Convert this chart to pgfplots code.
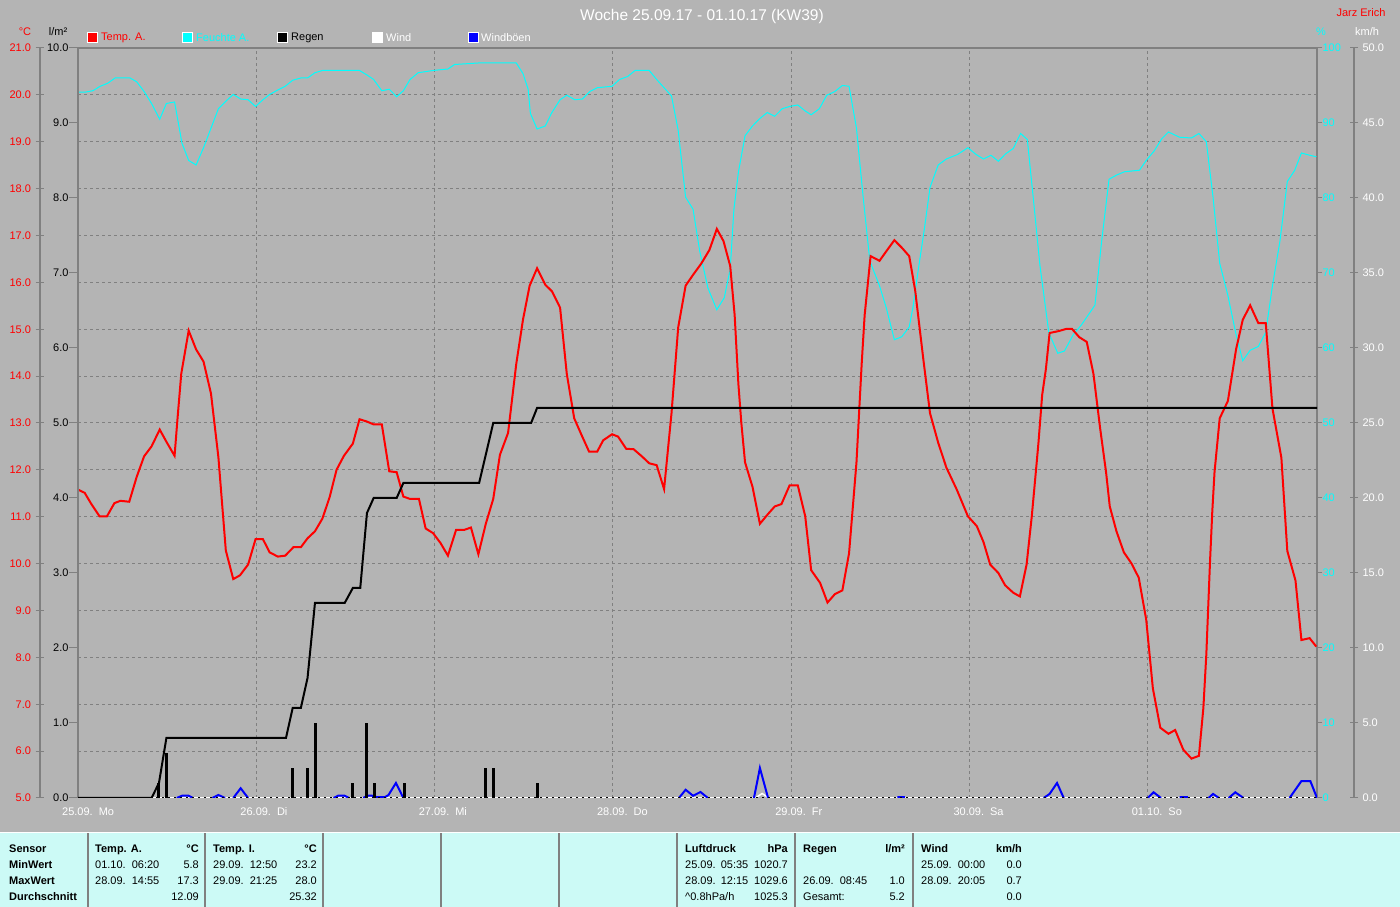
\documentclass[border=0pt]{standalone}
\usepackage{fontspec}
\setmainfont{Liberation Sans}
\usepackage{pgfplots}
\pgfplotsset{compat=1.18}

\definecolor{bg}{RGB}{180,180,180}
\definecolor{tabc}{RGB}{204,250,246}
\definecolor{gridc}{RGB}{128,128,128}
\definecolor{cyanc}{RGB}{0,255,255}
\newcommand{\sm}{\fontsize{11}{13}\selectfont}

\pgfplotsset{
  base/.style={scale only axis, width=1239pt, height=750pt,
    at={(78pt,109pt)}, anchor=south west, xmin=0, xmax=166.8},
  onedec/.style={/pgf/number format/fixed, /pgf/number format/fixed zerofill,
    /pgf/number format/precision=1, /pgf/number format/assume math mode=true},
}

\begin{document}
\begin{tikzpicture}
\fill[bg] (0pt,0pt) rectangle (1400pt,907pt);
\fill[tabc] (0pt,0pt) rectangle (1400pt,74pt);
\draw[white, line width=1pt] (0pt,74pt) -- (1400pt,74pt);

% grid and day labels
\begin{axis}[base, ymin=5, ymax=21,
  xtick={0,24,...,144}, ytick={6,7,...,20},
  xmajorgrids, ymajorgrids,
  grid style={gridc, dash pattern=on 3pt off 3pt, line width=1pt},
  axis line style={draw=none}, major tick length=0pt,
  yticklabels={},
  xticklabels={{25.09.\hspace{6pt}Mo},{26.09.\hspace{6pt}Di},{27.09.\hspace{6pt}Mi},
    {28.09.\hspace{6pt}Do},{29.09.\hspace{6pt}Fr},{30.09.\hspace{6pt}Sa},{01.10.\hspace{6pt}So}},
  x tick label style={white, font=\sm, anchor=west, inner sep=0pt, xshift=-16pt, yshift=-14pt}]
\addplot[draw=none] coordinates {(0,5)};
\end{axis}

% temperature scale
\begin{axis}[scale only axis, width=1pt, height=750pt, at={(40pt,109pt)}, anchor=south west,
  xmin=0, xmax=1, ymin=5, ymax=21, axis x line=none, axis y line=left,
  y axis line style={gridc, line width=2pt, -},
  ytick={5,6,...,21}, tick align=center, major tick length=9pt,
  tick style={gridc, line width=1pt},
  yticklabel style={red, font=\sm, xshift=-1pt}, onedec]
\end{axis}

% humidity
\begin{axis}[base, ymin=0, ymax=100, axis x line=none, axis y line=right,
  y axis line style={gridc, line width=2.5pt, -},
  ytick={0,10,...,100}, tick align=outside, major tick length=5pt,
  tick style={gridc, line width=1pt},
  yticklabel style={cyanc, font=\sm, xshift=-3pt},
  /pgf/number format/assume math mode=true]
\addplot[cyanc, line width=1pt] coordinates {
(0,94.1) (0.9,94.1) (2.0,94.3) (3.0,94.9) (4.0,95.3) (5.0,96.0) (7.0,96.0) (7.9,95.5)
(8.9,94.2) (9.9,92.6) (11.0,90.5) (11.9,92.6) (13.0,92.8) (14.0,87.3) (14.9,85.0)
(15.9,84.4) (16.9,86.7) (17.9,89.3) (18.9,91.9) (19.9,92.9) (20.9,93.8) (21.9,93.2)
(22.9,93.1) (23.9,92.2) (24.9,93.1) (25.8,93.8) (26.9,94.4) (27.9,94.9) (28.9,95.7)
(30.0,96.0) (30.9,96.0) (31.9,96.7) (32.9,97.0) (37.9,97.0) (38.9,96.4) (39.8,95.8)
(40.9,94.3) (41.9,94.5) (42.9,93.5) (43.8,94.3) (44.7,95.8) (45.8,96.7) (47.8,97.0)
(49.8,97.2) (50.7,97.8) (53.9,98.0) (59.0,98.0) (59.9,96.6) (60.6,94.5) (60.9,91.3)
(61.8,89.2) (62.9,89.6) (63.8,91.4) (64.9,93.1) (65.8,93.7) (66.9,93.1) (67.9,93.2)
(68.9,94.2) (69.9,94.7) (71.9,94.9) (72.9,95.8) (74.0,96.2) (75.0,97.0) (76.9,97.0)
(77.9,95.8) (78.9,94.7) (79.9,93.6) (80.8,89.0) (81.8,80.1) (82.8,78.5) (83.7,72.9)
(84.8,68.0) (86.0,65.1) (87.0,66.7) (87.8,70.5) (88.3,78.5) (88.9,83.4) (89.8,88.3)
(90.8,89.6) (91.8,90.6) (92.8,91.4) (93.8,90.9) (94.8,91.9) (95.8,92.2) (96.9,92.4)
(97.9,91.6) (98.7,91.1) (99.8,91.9) (100.8,93.7) (101.9,94.2) (102.9,95.0) (103.8,94.9)
(104.8,89.3) (105.7,80.1) (106.6,71.6) (107.9,68.3) (108.8,65.4) (109.9,61.1) (110.9,61.5)
(111.9,62.8) (112.4,65.4) (113.1,70.3) (113.9,75.6) (114.7,81.4) (115.8,84.4) (116.9,85.2)
(118.4,85.8) (119.8,86.7) (120.9,85.8) (121.9,85.2) (122.9,85.7) (123.9,84.9) (124.9,85.9)
(125.9,86.6) (126.9,88.6) (127.8,87.8) (128.6,80.0) (129.5,71.0) (130.7,62.0) (131.9,59.3)
(132.8,59.6) (134.0,61.8) (135.1,63.1) (136.9,65.7) (137.8,74.2) (138.8,82.5) (139.9,83.1)
(140.9,83.5) (142.9,83.7) (143.8,85.0) (144.9,86.3) (145.9,87.9) (146.8,88.8) (148.3,88.1)
(149.9,88.0) (150.9,88.6) (151.9,87.5) (152.8,80.1) (153.7,71.3) (154.8,67.0) (155.9,61.8)
(156.8,58.3) (157.8,59.7) (158.9,60.2) (159.9,62.1) (160.8,68.3) (161.8,74.2) (162.8,82.2)
(163.8,83.7) (164.7,86.0) (165.8,85.7) (166.7,85.5)};
\end{axis}

% temperature
\begin{axis}[base, ymin=5, ymax=21, hide axis]
\addplot[red, line width=2pt] coordinates {
(0,11.58) (0.9,11.51) (1.8,11.27) (2.9,11.01) (3.9,11.01) (4.9,11.29) (5.7,11.34) (6.9,11.32)
(7.9,11.85) (8.9,12.29) (9.9,12.50) (11.0,12.86) (11.9,12.60) (13.0,12.30) (13.4,13.10)
(13.9,14.05) (14.9,14.97) (15.9,14.57) (16.9,14.31) (17.9,13.63) (18.9,12.27) (19.9,10.28)
(20.9,9.67) (21.8,9.75) (22.9,9.98) (23.9,10.52) (24.9,10.52) (25.8,10.24) (26.9,10.15)
(27.9,10.17) (29.0,10.35) (30.0,10.35) (30.9,10.54) (31.9,10.69) (32.9,10.96) (33.9,11.43)
(34.8,12.00) (35.8,12.30) (37.0,12.56) (37.9,13.08) (38.9,13.03) (39.8,12.97) (40.9,12.97)
(41.9,11.97) (42.9,11.95) (43.8,11.43) (44.7,11.38) (45.9,11.38) (46.8,10.75) (47.8,10.65)
(48.8,10.44) (49.8,10.17) (50.9,10.72) (52.0,10.72) (52.9,10.77) (53.9,10.20) (54.9,10.85)
(55.9,11.38) (56.8,12.32) (57.9,12.79) (59.0,14.26) (59.9,15.20) (60.8,15.93) (61.8,16.30)
(62.9,15.95) (63.8,15.81) (64.9,15.46) (65.8,14.05) (66.8,13.10) (67.8,12.74) (68.8,12.39)
(69.9,12.39) (70.7,12.63) (71.9,12.76) (72.7,12.71) (73.8,12.45) (74.8,12.44) (75.9,12.29)
(76.9,12.14) (77.9,12.10) (78.9,11.59) (79.9,13.21) (80.8,15.04) (81.8,15.93) (82.8,16.16)
(83.9,16.40) (85.0,16.69) (86.0,17.14) (86.9,16.88) (87.8,16.35) (88.4,15.30) (88.9,13.84)
(89.3,13.00) (89.8,12.16) (90.8,11.64) (91.8,10.85) (92.9,11.06) (93.8,11.22) (94.7,11.27)
(95.8,11.67) (96.9,11.67) (97.9,11.01) (98.7,9.86) (99.9,9.59) (100.9,9.17) (101.9,9.35)
(102.9,9.43) (103.8,10.22) (104.8,12.16) (105.5,14.26) (105.9,15.30) (106.7,16.56)
(107.9,16.46) (108.8,16.66) (109.9,16.90) (110.9,16.74) (111.9,16.56) (112.7,15.83)
(113.8,14.36) (114.7,13.21) (115.8,12.58) (116.9,12.05) (118.3,11.58) (119.8,11.01)
(121.0,10.80) (121.9,10.46) (122.8,9.98) (123.9,9.80) (124.8,9.54) (125.9,9.38) (126.8,9.30)
(127.7,9.98) (128.4,11.01) (129.0,12.05) (129.3,12.58) (129.8,13.60) (130.3,14.15)
(130.8,14.92) (132.0,14.96) (133.1,15.01) (133.8,15.01) (134.8,14.83) (135.8,14.73)
(136.7,14.05) (137.6,12.89) (138.4,11.95) (138.9,11.22) (139.8,10.69) (140.8,10.24)
(141.8,10.01) (142.8,9.70) (143.8,8.81) (144.7,7.34) (145.7,6.50) (146.8,6.37) (147.7,6.45)
(148.8,6.03) (149.9,5.84) (150.9,5.90) (151.5,6.92) (151.9,8.07) (152.4,10.06) (152.7,11.11)
(153.0,11.95) (153.7,13.10) (154.8,13.47) (155.9,14.57) (156.8,15.20) (157.8,15.51)
(158.9,15.13) (159.9,15.13) (160.8,13.31) (162.0,12.26) (162.8,10.27) (163.9,9.64)
(164.7,8.37) (165.8,8.41) (166.7,8.23)};
\end{axis}

% wind and gusts
\begin{axis}[base, ymin=0, ymax=50, hide axis, unbounded coords=jump]
\addplot[white, line width=1.5pt] coordinates {(0,0) (91.2,0) (92.1,0.3) (93.0,0) (166.8,0)};
\addplot[blue, line width=2pt] coordinates {
(13.3,0) (14.0,0.15) (14.9,0.15) (15.5,0) (15.6,nan)
(18.1,0) (18.9,0.2) (19.8,0) (19.9,nan)
(20.9,0) (21.9,0.65) (22.9,0) (23.0,nan)
(34.4,0) (35.0,0.15) (35.9,0.15) (36.5,0) (36.6,nan)
(38.4,0) (39.0,0.15) (39.6,0.15) (40.3,0.05) (41.3,0.05) (41.8,0.2) (42.8,1.0) (43.8,0) (43.9,nan)
(80.9,0) (81.8,0.55) (82.8,0.15) (83.8,0.4) (84.8,0) (84.9,nan)
(91.0,0) (91.8,2.0) (92.9,0) (93.0,nan)
(110.3,0.05) (111.3,0.05) (111.4,nan)
(130.0,0) (130.8,0.27) (131.8,1.0) (132.7,0) (132.8,nan)
(144.0,0) (144.8,0.38) (145.8,0) (145.9,nan)
(148.3,0.05) (149.4,0.05) (149.5,nan)
(152.2,0) (152.8,0.27) (153.6,0) (153.7,nan)
(154.9,0) (155.8,0.38) (156.9,0) (157.0,nan)
(163.1,0) (164.7,1.13) (165.9,1.13) (166.8,0)};
\end{axis}

% rain
\begin{axis}[base, ymin=0, ymax=10, axis x line=none, axis y line=left,
  y axis line style={gridc, line width=2.5pt, -},
  ytick={0,1,...,10}, tick align=outside, major tick length=9pt,
  tick style={gridc, line width=1pt},
  yticklabel style={black, font=\sm, xshift=3pt}, onedec]
\addplot[black, line width=1.2pt, dash pattern=on 2pt off 4pt] coordinates {(0,0) (166.8,0)};
\addplot[black, line width=3pt, ycomb] coordinates {
(10.9,0.2) (11.85,0.6) (28.85,0.4) (30.87,0.4) (31.94,1.0) (36.92,0.2) (38.9,1.0)
(39.89,0.2) (43.92,0.2) (54.83,0.4) (55.9,0.4) (61.82,0.2)};
\addplot[black, line width=2pt] coordinates {
(0,0) (9.9,0) (10.9,0.2) (11.9,0.8) (28.0,0.8) (28.9,1.2) (30.0,1.2) (30.9,1.6) (31.9,2.6)
(35.9,2.6) (37.0,2.8) (38.0,2.8) (38.9,3.8) (39.8,4.0) (42.9,4.0) (43.8,4.2) (54.0,4.2)
(55.9,5.0) (61.0,5.0) (61.8,5.2) (166.8,5.2)};
\end{axis}

% wind scale
\begin{axis}[scale only axis, width=1pt, height=750pt, at={(1353pt,109pt)}, anchor=south west,
  xmin=0, xmax=1, ymin=0, ymax=50, axis x line=none, axis y line=right,
  y axis line style={gridc, line width=2pt, -},
  ytick={0,5,...,50}, tick align=center, major tick length=8pt,
  tick style={gridc, line width=1pt},
  yticklabel style={white, font=\sm, xshift=1pt}, onedec]
\end{axis}

\draw[gridc, line width=2.5pt] (76.75pt,859pt) -- (1318.25pt,859pt);

% header texts
\node[white, font=\fontsize{15.5}{18}\selectfont] at (702pt,890pt) {Woche 25.09.17 - 01.10.17 (KW39)};
\node[red, font=\sm, anchor=east] at (1389pt,894pt) {Jarz Erich};
\node[red, font=\sm] at (25pt,875pt) {°C};
\node[black, font=\sm] at (58pt,875pt) {l/m²};
\node[cyanc, font=\sm] at (1321pt,875pt) {\%};
\node[white, font=\sm] at (1367pt,875pt) {km/h};

% legend
\foreach \c/\x in {red/87, cyanc/182, black/277, white/372, blue/468} {
  \draw[white, fill=\c, line width=1pt] (\x pt,864pt) rectangle ++(10pt,10pt);
}
\node[red, font=\sm, anchor=west, inner sep=0pt] at (101pt,869pt) {Temp. A.};
\node[cyanc, font=\sm, anchor=west, inner sep=0pt] at (196pt,869pt) {Feuchte A.};
\node[black, font=\sm, anchor=west, inner sep=0pt] at (291pt,869pt) {Regen};
\node[white, font=\sm, anchor=west, inner sep=0pt] at (386pt,869pt) {Wind};
\node[white, font=\sm, anchor=west, inner sep=0pt] at (481pt,869pt) {Windböen};

% table
\foreach \x in {88,205,323,441,559,677,795,913} {
  \draw[gridc, line width=2pt] (\x pt,0pt) -- (\x pt,74pt);
}
\begin{scope}[every node/.style={font=\sm, inner sep=0pt, text=black}]
\node[anchor=base west] at (9pt,54pt) {\textbf{Sensor}};
\node[anchor=base west] at (9pt,38pt) {\textbf{MinWert}};
\node[anchor=base west] at (9pt,22pt) {\textbf{MaxWert}};
\node[anchor=base west] at (9pt,6pt) {\textbf{Durchschnitt}};

\node[anchor=base west] at (95pt,54pt) {\textbf{Temp. A.}};
\node[anchor=base east] at (199pt,54pt) {\textbf{°C}};
\node[anchor=base west] at (95pt,38pt) {01.10.\hspace{6pt}06:20};
\node[anchor=base east] at (199pt,38pt) {5.8};
\node[anchor=base west] at (95pt,22pt) {28.09.\hspace{6pt}14:55};
\node[anchor=base east] at (199pt,22pt) {17.3};
\node[anchor=base east] at (199pt,6pt) {12.09};

\node[anchor=base west] at (213pt,54pt) {\textbf{Temp. I.}};
\node[anchor=base east] at (317pt,54pt) {\textbf{°C}};
\node[anchor=base west] at (213pt,38pt) {29.09.\hspace{6pt}12:50};
\node[anchor=base east] at (317pt,38pt) {23.2};
\node[anchor=base west] at (213pt,22pt) {29.09.\hspace{6pt}21:25};
\node[anchor=base east] at (317pt,22pt) {28.0};
\node[anchor=base east] at (317pt,6pt) {25.32};

\node[anchor=base west] at (685pt,54pt) {\textbf{Luftdruck}};
\node[anchor=base east] at (788pt,54pt) {\textbf{hPa}};
\node[anchor=base west] at (685pt,38pt) {25.09.\hspace{5pt}05:35};
\node[anchor=base east] at (788pt,38pt) {1020.7};
\node[anchor=base west] at (685pt,22pt) {28.09.\hspace{5pt}12:15};
\node[anchor=base east] at (788pt,22pt) {1029.6};
\node[anchor=base west] at (685pt,6pt) {\textasciicircum 0.8hPa/h};
\node[anchor=base east] at (788pt,6pt) {1025.3};

\node[anchor=base west] at (803pt,54pt) {\textbf{Regen}};
\node[anchor=base east] at (905pt,54pt) {\textbf{l/m²}};
\node[anchor=base west] at (803pt,22pt) {26.09.\hspace{6pt}08:45};
\node[anchor=base east] at (905pt,22pt) {1.0};
\node[anchor=base west] at (803pt,6pt) {Gesamt:};
\node[anchor=base east] at (905pt,6pt) {5.2};

\node[anchor=base west] at (921pt,54pt) {\textbf{Wind}};
\node[anchor=base east] at (1022pt,54pt) {\textbf{km/h}};
\node[anchor=base west] at (921pt,38pt) {25.09.\hspace{6pt}00:00};
\node[anchor=base east] at (1022pt,38pt) {0.0};
\node[anchor=base west] at (921pt,22pt) {28.09.\hspace{6pt}20:05};
\node[anchor=base east] at (1022pt,22pt) {0.7};
\node[anchor=base east] at (1022pt,6pt) {0.0};
\end{scope}

\pgfresetboundingbox
\useasboundingbox (0pt,0pt) rectangle (1400pt,907pt);
\end{tikzpicture}
\end{document}
